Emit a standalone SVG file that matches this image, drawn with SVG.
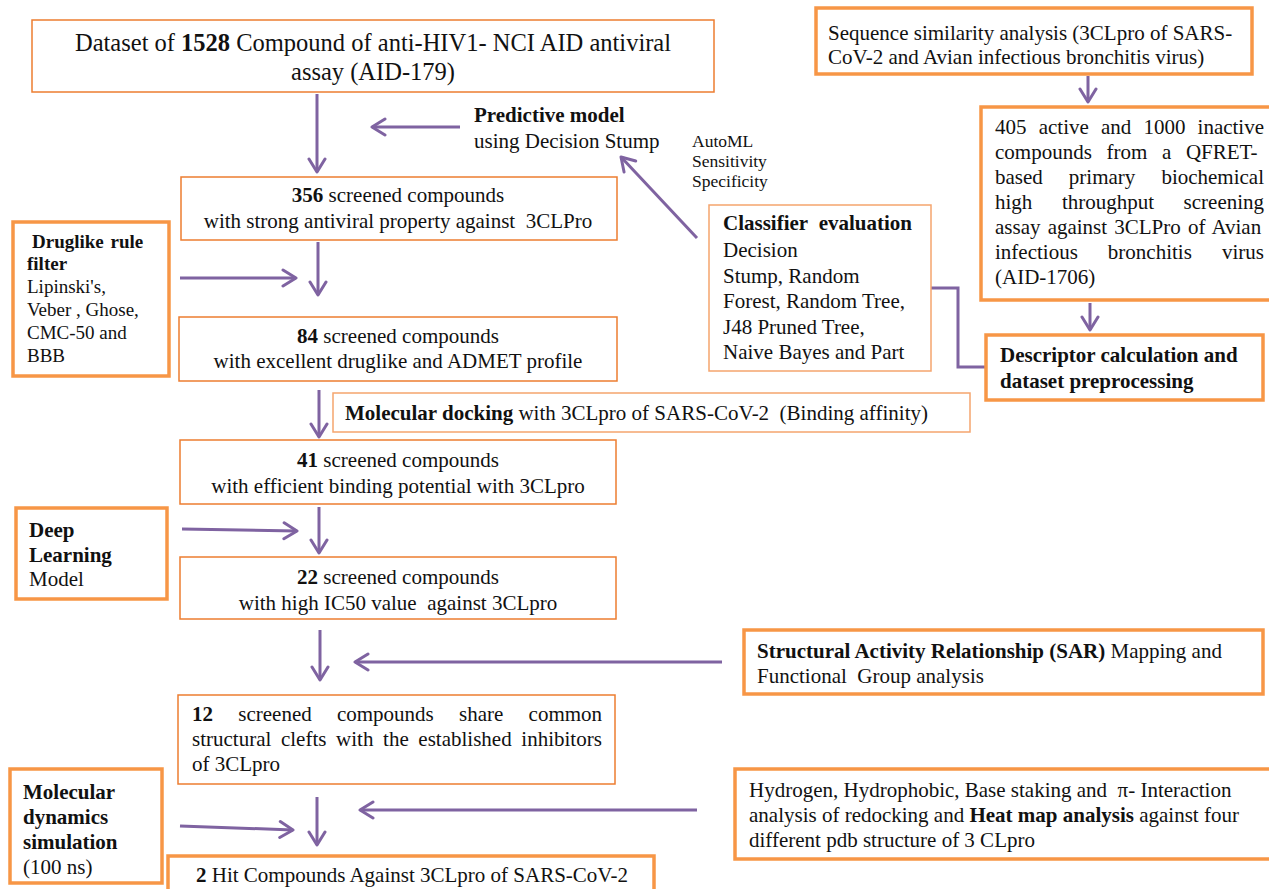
<svg xmlns="http://www.w3.org/2000/svg" width="1269" height="889" viewBox="0 0 1269 889">
<style>
text{font-family:"Liberation Serif","Times New Roman",serif;font-size:21px;fill:#111;}
.b{font-weight:bold;}
.s19{font-size:19px;}
.thin{fill:#fff;stroke:#ED7D31;stroke-width:1.5;}
.light{fill:#fff;stroke:#F5A56E;stroke-width:1.5;}
.thick{fill:#fff;stroke:#F79646;stroke-width:3.5;}
.arr{fill:none;stroke:#7F63A1;stroke-width:3;marker-end:url(#ah);}
.ln{fill:none;stroke:#7F63A1;stroke-width:3;}
.c{text-anchor:middle;}
</style>
<defs>
<marker id="ah" markerUnits="userSpaceOnUse" markerWidth="18" markerHeight="22" viewBox="0 0 18 22" refX="15" refY="11" orient="auto">
<path d="M2,3 L15,11 L2,19" fill="none" stroke="#7F63A1" stroke-width="3" stroke-linecap="round" stroke-linejoin="round"/>
</marker>
</defs>
<rect width="1269" height="889" fill="#fff"/>

<g id="connectors">
<line class="arr" x1="317" y1="94" x2="317" y2="172"/>
<line class="arr" x1="460" y1="127" x2="372" y2="127"/>
<line class="arr" x1="697" y1="238" x2="621" y2="157"/>
<line class="arr" x1="1088" y1="76" x2="1088" y2="102"/>
<line class="arr" x1="1090" y1="303" x2="1090" y2="330"/>
<polyline class="ln" points="931,288 958,288 958,367 986,367"/>
<line class="arr" x1="318" y1="242" x2="318" y2="295"/>
<line class="arr" x1="180" y1="278" x2="296" y2="278"/>
<line class="arr" x1="319" y1="390" x2="319" y2="437"/>
<line class="arr" x1="319" y1="507" x2="319" y2="553"/>
<line class="arr" x1="182" y1="529" x2="297" y2="531"/>
<line class="arr" x1="320" y1="630" x2="320" y2="680"/>
<line class="arr" x1="722" y1="662" x2="355" y2="662"/>
<line class="arr" x1="317" y1="797" x2="317" y2="845"/>
<line class="arr" x1="180" y1="826" x2="293" y2="830"/>
<line class="arr" x1="697" y1="810" x2="360" y2="810"/>
</g>

<g id="dataset">
<rect class="thin" x="32" y="20" width="682" height="72"/>
<text class="c" x="373" y="51" style="font-size:24.5px">Dataset of <tspan class="b">1528</tspan> Compound of anti-HIV1- NCI AID antiviral</text>
<text class="c" x="373" y="80" style="font-size:24.5px">assay (AID-179)</text>
</g>

<g id="sequence">
<rect class="thick" x="816" y="8" width="436" height="66"/>
<text x="828" y="40">Sequence similarity analysis (3CLpro of SARS-</text>
<text x="828" y="64">CoV-2 and Avian infectious bronchitis virus)</text>
</g>

<g id="assay1706">
<rect class="thick" x="981" y="107" width="300" height="193"/>
<text x="995" y="134" word-spacing="6.9">405 active and 1000 inactive</text>
<text x="995" y="159" word-spacing="9.4">compounds from a QFRET-</text>
<text x="995" y="184" word-spacing="20.8">based primary biochemical</text>
<text x="995" y="209" word-spacing="24.3">high throughput screening</text>
<text x="995" y="234" word-spacing="1.9">assay against 3CLPro of Avian</text>
<text x="995" y="259" word-spacing="24.8">infectious bronchitis virus</text>
<text x="995" y="284">(AID-1706)</text>
</g>

<g id="descriptor">
<rect class="thick" x="986" y="335" width="277" height="65"/>
<text class="b" x="1000" y="362">Descriptor calculation and</text>
<text class="b" x="1000" y="388">dataset preprocessing</text>
</g>

<g id="predictive">
<text class="b" x="474" y="122">Predictive model</text>
<text x="474" y="148">using Decision Stump</text>
</g>

<g id="metrics">
<text x="692" y="147" style="font-size:17.5px">AutoML</text>
<text x="692" y="167" style="font-size:17.5px">Sensitivity</text>
<text x="692" y="187" style="font-size:17.5px">Specificity</text>
</g>

<g id="classifier">
<rect class="light" x="709" y="205" width="222" height="166"/>
<text class="b" x="723" y="230">Classifier&#160; evaluation</text>
<text x="723" y="257">Decision</text>
<text x="723" y="283">Stump, Random</text>
<text x="723" y="308">Forest, Random Tree,</text>
<text x="723" y="334">J48 Pruned Tree,</text>
<text x="723" y="359">Naive Bayes and Part</text>
</g>

<g id="screen356">
<rect class="thin" x="181" y="177" width="436" height="63"/>
<text class="c" x="398" y="202"><tspan class="b">356</tspan> screened compounds</text>
<text class="c" x="398" y="228">with strong antiviral property against&#160; 3CLPro</text>
</g>

<g id="druglike">
<rect class="thick" x="13" y="222" width="156" height="154"/>
<text class="b s19" x="32" y="248" word-spacing="2">Druglike rule</text>
<text class="b s19" x="27" y="270">filter</text>
<text class="s19" x="27" y="293">Lipinski's,</text>
<text class="s19" x="27" y="316">Veber , Ghose,</text>
<text class="s19" x="27" y="339">CMC-50 and</text>
<text class="s19" x="27" y="362">BBB</text>
</g>

<g id="screen84">
<rect class="thin" x="179" y="317" width="438" height="64"/>
<text class="c" x="398" y="343"><tspan class="b">84</tspan> screened compounds</text>
<text class="c" x="398" y="368">with excellent druglike and ADMET profile</text>
</g>

<g id="docking">
<rect class="light" x="333" y="393" width="637" height="39"/>
<text x="345" y="420"><tspan class="b">Molecular docking</tspan> with 3CLpro of SARS-CoV-2&#160; (Binding affinity)</text>
</g>

<g id="screen41">
<rect class="thin" x="180" y="440" width="436" height="64"/>
<text class="c" x="398" y="467"><tspan class="b">41</tspan> screened compounds</text>
<text class="c" x="398" y="493">with efficient binding potential with 3CLpro</text>
</g>

<g id="deeplearning">
<rect class="thick" x="16" y="508" width="151" height="91"/>
<text class="b" x="29" y="537">Deep</text>
<text class="b" x="29" y="562">Learning</text>
<text x="29" y="586">Model</text>
</g>

<g id="screen22">
<rect class="thin" x="180" y="557" width="436" height="62"/>
<text class="c" x="398" y="584"><tspan class="b">22</tspan> screened compounds</text>
<text class="c" x="398" y="610">with high IC50 value&#160; against 3CLpro</text>
</g>

<g id="sar">
<rect class="thick" x="744" y="630" width="519" height="64"/>
<text x="757" y="658"><tspan class="b">Structural Activity Relationship (SAR)</tspan> Mapping and</text>
<text x="757" y="683">Functional&#160; Group analysis</text>
</g>

<g id="screen12">
<rect class="thin" x="178" y="695" width="437" height="89"/>
<text x="192" y="721" word-spacing="20"><tspan class="b">12</tspan> screened compounds share common</text>
<text x="192" y="746" word-spacing="4.4">structural clefts with the established inhibitors</text>
<text x="192" y="771">of 3CLpro</text>
</g>

<g id="md">
<rect class="thick" x="10" y="769" width="152" height="114"/>
<text class="b" x="23" y="799">Molecular</text>
<text class="b" x="23" y="824">dynamics</text>
<text class="b" x="23" y="849">simulation</text>
<text x="23" y="874">(100 ns)</text>
</g>

<g id="interaction">
<rect class="thick" x="735" y="769" width="545" height="90"/>
<text x="749" y="797">Hydrogen, Hydrophobic, Base staking and&#160; π- Interaction</text>
<text x="749" y="822">analysis of redocking and <tspan class="b">Heat map analysis</tspan> against four</text>
<text x="749" y="847">different pdb structure of 3 CLpro</text>
</g>

<g id="hits">
<rect class="thick" x="168" y="856" width="486" height="45"/>
<text x="196" y="882"><tspan class="b">2</tspan> Hit Compounds Against 3CLpro of SARS-CoV-2</text>
</g>
</svg>
